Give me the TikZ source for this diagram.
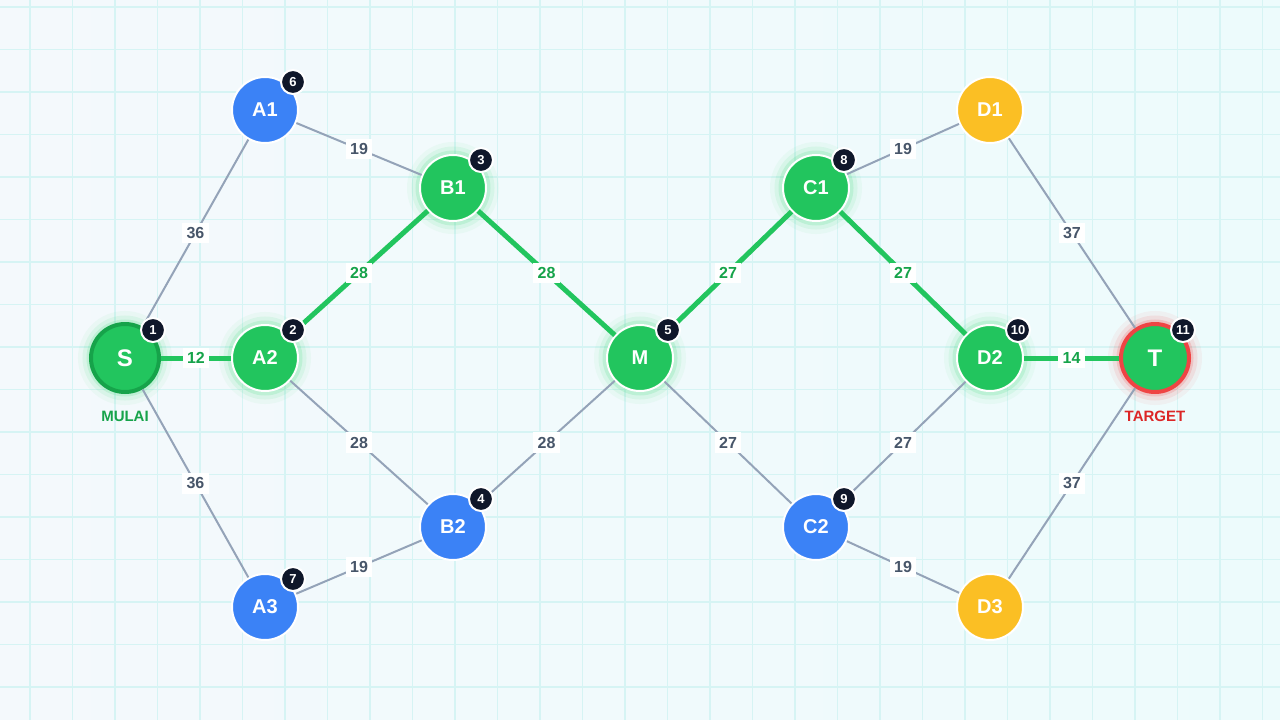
\documentclass[tikz,border=0pt]{standalone}
\usepackage{fontspec}
\setmainfont{Liberation Sans}

\definecolor{paperL}{HTML}{F4F9FC}
\definecolor{paperR}{HTML}{EDFBFC}
\definecolor{gridc}{HTML}{D6F4F4}
\definecolor{pgreen}{HTML}{22C55E}
\definecolor{pdkgreen}{HTML}{16A34A}
\definecolor{pglow}{HTML}{4ADE80}
\definecolor{pblue}{HTML}{3B82F6}
\definecolor{pyellow}{HTML}{FBBF24}
\definecolor{pred}{HTML}{EF4444}
\definecolor{pdkred}{HTML}{DC2626}
\definecolor{pgray}{HTML}{94A3B8}
\definecolor{plabel}{HTML}{475569}
\definecolor{pbadge}{HTML}{0F172A}

\begin{document}
\begin{tikzpicture}[x=1pt, y=-1pt,
    gridline/.style={draw=gridc, line width=1.3pt},
    vertex/.style={circle, minimum size=66pt, inner sep=0pt, draw=white, line width=2pt,
        text=white, font=\fontsize{20}{20}\selectfont\bfseries},
    glow/.style={preaction={draw=#1, line width=26pt, opacity=0.06},
        preaction={draw=#1, line width=17pt, opacity=0.1},
        preaction={draw=#1, line width=9pt, opacity=0.18}},
    hotv/.style={vertex, fill=pgreen, glow=pglow},
    bluev/.style={vertex, fill=pblue},
    yellowv/.style={vertex, fill=pyellow},
    startv/.style={vertex, fill=pgreen, draw=pdkgreen, line width=4pt, minimum size=68pt,
        glow=pglow, font=\fontsize{24}{24}\selectfont\bfseries},
    goalv/.style={vertex, fill=pgreen, draw=pred, line width=4pt, minimum size=68pt,
        glow=pred, font=\fontsize{24}{24}\selectfont\bfseries},
    badge/.style={circle, minimum size=24pt, inner sep=0pt, fill=pbadge, draw=white,
        line width=2pt, text=white, font=\fontsize{13}{13}\selectfont\bfseries},
    edge/.style={draw=pgray, line width=2pt},
    hot/.style={draw=pgreen, line width=5pt},
    wlab/.style={fill=white, inner sep=4.5pt, text=plabel, font=\fontsize{16}{16}\selectfont\bfseries},
    hotlab/.style={wlab, text=pdkgreen},
    caption/.style={font=\fontsize{15}{15}\selectfont\bfseries}]

    \useasboundingbox (0,0) rectangle (1280,720);
    \shade[left color=paperL, right color=paperR] (0,0) rectangle (1280,720);
    \foreach \gx in {0,...,29}
        \draw [gridline] ({30+42.5*\gx},0) -- ({30+42.5*\gx},720);
    \foreach \gy in {0,...,16}
        \draw [gridline] (0,{7+42.5*\gy}) -- (1280,{7+42.5*\gy});

    % left side
    \node(S)  at (125,358) [startv]  {S};
    \node(A1) at (265,110) [bluev]   {A1};
    \node(A2) at (265,358) [hotv]    {A2};
    \node(A3) at (265,607) [bluev]   {A3};
    \node(B1) at (453,188) [hotv]    {B1};
    \node(B2) at (453,527) [bluev]   {B2};

    % middle
    \node(M)  at (640,358) [hotv]    {M};

    % right side
    \node(C1) at (816,188) [hotv]    {C1};
    \node(C2) at (816,527) [bluev]   {C2};
    \node(D1) at (990,110) [yellowv] {D1};
    \node(D2) at (990,358) [hotv]    {D2};
    \node(D3) at (990,607) [yellowv] {D3};
    \node(T)  at (1155,358) [goalv]  {T};

    % left side
    \draw [edge] (S) to node [wlab] {36} (A1);
    \draw [hot]  (S) to node [hotlab] {12} (A2);
    \draw [edge] (S) to node [wlab] {36} (A3);
    \draw [edge] (A1) to node [wlab] {19} (B1);
    \draw [hot]  (A2) to node [hotlab] {28} (B1);
    \draw [edge] (A2) to node [wlab] {28} (B2);
    \draw [edge] (A3) to node [wlab] {19} (B2);

    % middle
    \draw [hot]  (B1) to node [hotlab] {28} (M);
    \draw [edge] (B2) to node [wlab] {28} (M);
    \draw [hot]  (M) to node [hotlab] {27} (C1);
    \draw [edge] (M) to node [wlab] {27} (C2);

    % right side
    \draw [edge] (C1) to node [wlab] {19} (D1);
    \draw [hot]  (C1) to node [hotlab] {27} (D2);
    \draw [edge] (C2) to node [wlab] {27} (D2);
    \draw [edge] (C2) to node [wlab] {19} (D3);
    \draw [edge] (D1) to node [wlab] {37} (T);
    \draw [hot]  (D2) to node [hotlab] {14} (T);
    \draw [edge] (D3) to node [wlab] {37} (T);

    % visit order
    \node(nS)  at ([shift={(28,-28)}]S.center)  [badge] {1};
    \node(nA2) at ([shift={(28,-28)}]A2.center) [badge] {2};
    \node(nB1) at ([shift={(28,-28)}]B1.center) [badge] {3};
    \node(nB2) at ([shift={(28,-28)}]B2.center) [badge] {4};
    \node(nM)  at ([shift={(28,-28)}]M.center)  [badge] {5};
    \node(nA1) at ([shift={(28,-28)}]A1.center) [badge] {6};
    \node(nA3) at ([shift={(28,-28)}]A3.center) [badge] {7};
    \node(nC1) at ([shift={(28,-28)}]C1.center) [badge] {8};
    \node(nC2) at ([shift={(28,-28)}]C2.center) [badge] {9};
    \node(nD2) at ([shift={(28,-28)}]D2.center) [badge] {10};
    \node(nT)  at ([shift={(28,-28)}]T.center)  [badge] {11};

    \node(mulai)  at (125,416)  [caption, text=pdkgreen] {MULAI};
    \node(target) at (1155,416) [caption, text=pdkred]   {TARGET};

\end{tikzpicture}
\end{document}
